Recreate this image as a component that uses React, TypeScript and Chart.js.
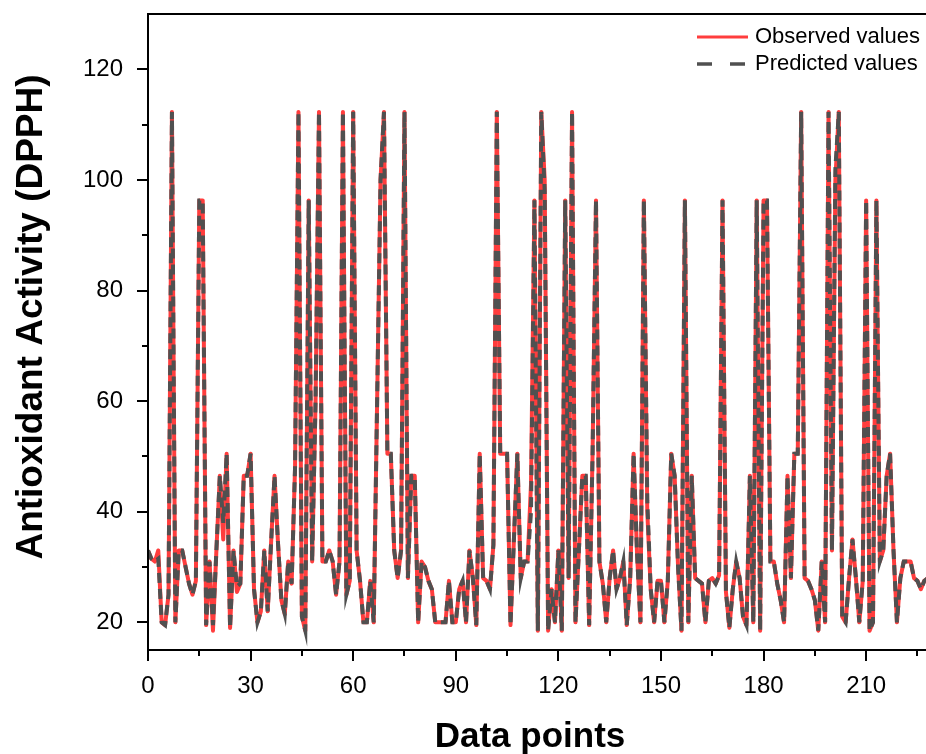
import React, { useEffect, useRef } from 'react';
import { Chart, registerables } from 'chart.js';

Chart.register(...registerables);

// Observed antioxidant activity (DPPH) per data point
const observedValues = [
  33, 31.5, 31, 33, 20, 19.5, 25, 112.3, 20, 33,
  33, 30, 27, 25, 27.5, 96.3, 96.3, 19.5, 31, 18.5,
  33, 46.5, 35, 50.5, 19, 33, 25.5, 27, 46.5, 46.5,
  50.5, 26, 20, 22, 33, 22, 34.5, 46.5, 34.5, 24,
  21.5, 31, 27, 48, 112.3, 21, 18.5, 96.3, 31, 60,
  112.3, 31, 31, 33, 31, 25, 31, 112.3, 25, 27.5,
  112.3, 33, 27.5, 20, 20, 27.5, 20, 60, 100, 112.3,
  50.5, 50.5, 33, 28, 33, 112.3, 28, 46.5, 46.5, 20,
  31, 30, 27.5, 26, 20, 20, 20, 20, 27.5, 20,
  20, 26, 27.5, 20, 33, 28, 19.5, 50.5, 28, 27.5,
  26, 34, 112.3, 50.5, 50.5, 50.5, 19.5, 35, 50.5, 28,
  31, 31, 45, 96.3, 18.5, 112.3, 100, 18.5, 26, 20,
  33, 18.5, 96.3, 28, 112.3, 20, 33, 46.5, 46.5, 19.5,
  50.5, 96.3, 31, 27, 20, 28, 33, 26, 28, 31,
  19.5, 28, 50.5, 32.5, 20, 96.3, 40, 26, 20, 27.5,
  27.5, 20, 27.5, 50.5, 46.5, 30, 18.5, 96.3, 20, 46.5,
  28, 27.5, 27, 20, 27.5, 28, 27, 28.5, 96.3, 25.5,
  19, 26, 31, 28, 21, 19.5, 46.5, 20, 96.3, 18.5,
  96.3, 96.3, 31, 31, 27, 24, 20, 46.5, 28, 50.5,
  50.5, 112.3, 28, 27.5, 26, 24, 18.5, 31, 20, 112.3,
  33, 100, 112.3, 21, 20, 28, 35, 28, 20, 27.5,
  96.3, 18.5, 20, 96.3, 31, 33, 46.5, 50.5, 33, 20,
  28, 31, 31, 31, 28, 27.5, 26, 27.5, 28,
];

// Predicted antioxidant activity (DPPH) per data point
const predictedValues = [
  33, 31.5, 31, 31.5, 20, 19.5, 25, 112.3, 20, 33,
  33, 30, 27, 25, 27.5, 96.3, 96.3, 19.5, 31, 19.5,
  33, 46.5, 38, 50.5, 19, 33, 26.5, 27, 46.5, 46.5,
  50.5, 26, 20, 22, 33, 22, 34.5, 46.5, 34.5, 24,
  21.5, 31, 27, 48, 112.3, 21, 18.5, 96.3, 31, 60,
  112.3, 31, 31, 33, 31, 25, 31, 112.3, 25, 27.5,
  112.3, 33, 27.5, 20, 20, 27.5, 20, 60, 100, 112.3,
  50.5, 50.5, 33, 28, 33, 112.3, 28, 46.5, 46.5, 20,
  31, 30, 27.5, 26, 20, 20, 20, 20, 27.5, 20,
  20, 26, 27.5, 20, 33, 28, 19.5, 50.5, 28, 27.5,
  26, 34, 112.3, 50.5, 50.5, 50.5, 19.5, 35, 50.5, 28,
  31, 31, 40, 96.3, 18.5, 112.3, 98, 18.5, 26, 20,
  33, 18.5, 96.3, 28, 112.3, 20, 33, 46.5, 46.5, 19.5,
  50.5, 96.3, 31, 27, 20, 28, 33, 26, 28, 31,
  19.5, 28, 50.5, 32.5, 20, 96.3, 42, 26, 20, 27.5,
  27.5, 20, 27.5, 50.5, 46.5, 30, 18.5, 96.3, 20, 46.5,
  28, 27.5, 27, 20, 27.5, 28, 27, 28.5, 96.3, 25.5,
  19, 26, 31, 28, 21, 19.5, 46.5, 20, 96.3, 18.5,
  96.3, 96.3, 31, 31, 27, 24, 20, 46.5, 28, 50.5,
  50.5, 112.3, 28, 27.5, 26, 24, 18.5, 31, 20, 112.3,
  33, 102, 112.3, 21, 20, 28, 35, 28, 20, 27.5,
  96.3, 18.5, 20, 96.3, 31, 33, 46.5, 50.5, 33, 20,
  28, 31, 31, 31, 28, 27.5, 26, 27.5, 28,
];

// Data point index (x axis)
const dataPoints = observedValues.map((_, i) => i);

const xTickValues = [0, 30, 60, 90, 120, 150, 180, 210];
const xMinorTickValues = [15, 45, 75, 105, 135, 165, 195, 225];
const yTickValues = [20, 40, 60, 80, 100, 120];
const yMinorTickValues = [30, 50, 70, 90, 110];

const seriesNames = ['Observed values', 'Predicted values'];
const xTitle = 'Data points';
const yTitle = 'Antioxidant Activity (DPPH)';

const FONT = "'Liberation Sans', Arial, Helvetica, sans-serif";
const RED = '#ff3d3d';
const GRAY = '#505050';

const decorPlugin = {
  id: 'decor',
  afterDraw(chart: any) {
    const { ctx, chartArea: a, scales } = chart;
    const x = scales.x;
    const y = scales.y;
    ctx.save();
    ctx.strokeStyle = '#000';
    ctx.lineWidth = 2;
    ctx.lineCap = 'butt';
    // axes frame
    ctx.beginPath();
    ctx.moveTo(a.left, a.top);
    ctx.lineTo(a.left, a.bottom);
    ctx.moveTo(a.left - 1, a.bottom);
    ctx.lineTo(a.right, a.bottom);
    ctx.moveTo(a.left - 1, a.top);
    ctx.lineTo(a.right, a.top);
    ctx.stroke();
    // y ticks
    ctx.beginPath();
    yTickValues.forEach((v) => {
      const p = Math.round(y.getPixelForValue(v));
      ctx.moveTo(a.left - 11, p);
      ctx.lineTo(a.left, p);
    });
    yMinorTickValues.forEach((v) => {
      const p = Math.round(y.getPixelForValue(v));
      ctx.moveTo(a.left - 6, p);
      ctx.lineTo(a.left, p);
    });
    // x ticks
    xTickValues.forEach((v) => {
      const p = Math.round(x.getPixelForValue(v));
      ctx.moveTo(p, a.bottom);
      ctx.lineTo(p, a.bottom + 11);
    });
    xMinorTickValues.forEach((v) => {
      const p = Math.round(x.getPixelForValue(v));
      if (p > a.right) return;
      ctx.moveTo(p, a.bottom);
      ctx.lineTo(p, a.bottom + 6);
    });
    ctx.stroke();

    // titles
    ctx.fillStyle = '#000';
    ctx.textAlign = 'center';
    ctx.textBaseline = 'alphabetic';
    ctx.font = `bold 35px ${FONT}`;
    ctx.fillText(xTitle, 530, 747);
    ctx.save();
    ctx.translate(42, 317);
    ctx.rotate(-Math.PI / 2);
    ctx.font = `bold 37px ${FONT}`;
    ctx.fillText(yTitle, 0, 0);
    ctx.restore();

    // legend
    ctx.lineWidth = 3;
    ctx.strokeStyle = RED;
    ctx.beginPath();
    ctx.moveTo(697, 37);
    ctx.lineTo(748, 37);
    ctx.stroke();
    ctx.strokeStyle = GRAY;
    ctx.lineWidth = 3.5;
    ctx.beginPath();
    ctx.moveTo(697, 64);
    ctx.lineTo(712, 64);
    ctx.moveTo(730, 64);
    ctx.lineTo(745, 64);
    ctx.stroke();
    ctx.font = `22px ${FONT}`;
    ctx.textAlign = 'left';
    ctx.textBaseline = 'middle';
    ctx.fillStyle = '#000';
    ctx.fillText(seriesNames[0], 755, 37);
    ctx.fillText(seriesNames[1], 755, 64);
    ctx.restore();
  },
};

export default function App() {
  const canvasRef = useRef<HTMLCanvasElement | null>(null);

  useEffect(() => {
    const canvas = canvasRef.current;
    if (!canvas) return;
    const chart = new Chart(canvas, {
      type: 'line',
      data: {
        labels: dataPoints,
        datasets: [
          {
            label: seriesNames[0],
            data: observedValues,
            borderColor: RED,
            backgroundColor: RED,
            borderWidth: 4,
            pointRadius: 0,
            tension: 0,
            borderJoinStyle: 'round',
            order: 2,
          },
          {
            label: seriesNames[1],
            data: predictedValues,
            borderColor: GRAY,
            backgroundColor: GRAY,
            borderWidth: 4,
            borderDash: [10, 6],
            pointRadius: 0,
            tension: 0,
            order: 1,
          },
        ],
      },
      options: {
        animation: false,
        responsive: false,
        devicePixelRatio: 1,
        layout: { padding: { top: 14, right: 0, bottom: 0, left: 0 } },
        plugins: {
          legend: { display: false },
          tooltip: { enabled: false },
        },
        scales: {
          x: {
            type: 'linear',
            min: 0,
            max: 227.5,
            afterBuildTicks: (scale: any) => {
              scale.ticks = xTickValues.map((v) => ({ value: v }));
            },
            afterFit: (scale: any) => {
              scale.height = 104;
              scale.paddingLeft = 0;
              scale.paddingRight = 0;
            },
            grid: { display: false, drawTicks: false },
            border: { display: false },
            ticks: {
              padding: 22,
              color: '#000',
              font: { family: FONT, size: 24 },
              maxRotation: 0,
              autoSkip: false,
            },
          },
          y: {
            type: 'linear',
            min: 15,
            max: 130,
            afterBuildTicks: (scale: any) => {
              scale.ticks = yTickValues.map((v) => ({ value: v }));
            },
            afterFit: (scale: any) => {
              scale.width = 148;
              scale.paddingTop = 0;
              scale.paddingBottom = 0;
            },
            grid: { display: false, drawTicks: false },
            border: { display: false },
            ticks: {
              padding: 25,
              color: '#000',
              font: { family: FONT, size: 24 },
              autoSkip: false,
            },
          },
        },
      },
      plugins: [decorPlugin],
    });
    return () => chart.destroy();
  }, []);

  return (
    <div style={{ position: 'absolute', left: 0, top: 0, width: 926, height: 754, background: '#fff' }}>
      <canvas ref={canvasRef} width={926} height={754} style={{ display: 'block' }} />
    </div>
  );
}
